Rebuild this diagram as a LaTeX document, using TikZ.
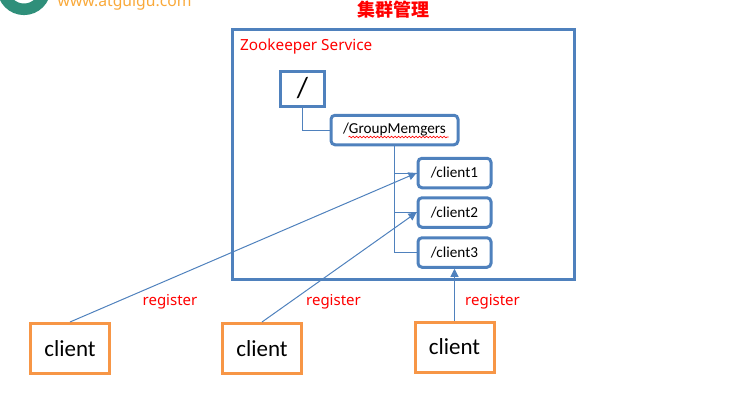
\documentclass[tikz,border=0pt]{standalone}
\usepackage{fontspec}
\setmainfont{Noto Sans}
\newfontfamily\cjk{Noto Sans CJK SC}
\newfontfamily\boxfont{Carlito}
\usetikzlibrary{arrows.meta,decorations.pathmorphing}
\definecolor{boxblue}{HTML}{4F81BD}
\definecolor{boxorange}{HTML}{F79646}
\definecolor{ringgreen}{HTML}{2F8F7A}
\definecolor{logoorange}{HTML}{F9A93A}
\tikzset{
  x=1pt,y=-1pt,
  service/.style={draw=boxblue,line width=3pt,minimum width=342pt,minimum height=250pt,inner sep=0pt},
  rootbox/.style={draw=boxblue,line width=3pt,minimum width=44pt,minimum height=35pt,inner sep=0pt,font=\boxfont\fontsize{29}{29}\selectfont},
  zbox/.style={draw=boxblue,line width=3pt,rounded corners=4pt,minimum height=29.5pt,inner sep=0pt,font=\boxfont\fontsize{15.2}{15.2}\selectfont},
  clientbox/.style={draw=boxorange,line width=3pt,minimum width=79pt,minimum height=50pt,inner sep=0pt,font=\boxfont\fontsize{23}{23}\selectfont},
  redlabel/.style={text=red,inner sep=0pt,font=\fontsize{15}{15}\selectfont},
  tree/.style={draw=boxblue,line width=1pt},
  regarrow/.style={draw=boxblue,line width=1pt,-{Triangle[length=8pt,width=8pt]}}
}
\begin{document}
\begin{tikzpicture}
\useasboundingbox (0,0) rectangle (749,412);
\begin{scope}
  \clip (0,0) rectangle (749,412);
  \draw[ringgreen,line width=11.5pt] (24,-11.7) circle[radius=21];
  \node[anchor=base west,inner sep=0pt,text=logoorange,font=\bfseries\fontsize{15.7}{15.7}\selectfont] (logo) at (57.5,7) {www.atguigu.com};
\end{scope}
\node[text=red,inner sep=0pt,font=\cjk\bfseries\fontsize{18}{18}\selectfont] (title) at (393.5,10) {集群管理};
\node[service] (svc) at (403.5,154.5) {};
\node[redlabel,anchor=west,font=\fontsize{15.3}{15.3}\selectfont] (svclabel) at (240,46.5) {Zookeeper Service};
\node[rootbox] (root) at (302.5,88.5) {/};
\node[zbox,minimum width=127pt] (group) at (394.5,130) {/GroupMemgers};
\node[zbox,minimum width=73pt] (c1) at (454.5,173) {/client1};
\node[zbox,minimum width=73pt] (c2) at (454.5,212.5) {/client2};
\node[zbox,minimum width=73pt] (c3) at (454.5,252.5) {/client3};
\draw[red,line width=0.7pt,decorate,decoration={snake,amplitude=0.8pt,segment length=3.5pt}] (group.center) ++(-46,7) coordinate (sqa) (sqa) -- ++(100,0);
\node[clientbox] (ca) at (70,348.5) {client};
\node[clientbox] (cb) at (262,348.5) {client};
\node[clientbox] (cc) at (454.5,347) {client};
\draw[tree] (root.south) |- (group.west);
\draw[tree] (group.south) |- (c1.west);
\draw[tree] (group.south) |- (c2.west);
\draw[tree] (group.south) |- (c3.west);
\draw[regarrow] (ca.north) -- (c1.west);
\draw[regarrow] (cb.north) -- (c2.west);
\draw[regarrow] (cc.north) -- (c3.south);
\node[redlabel] (ra) at (170,301.5) {register};
\node[redlabel] (rb) at (333.5,301.5) {register};
\node[redlabel] (rc) at (492.5,301.5) {register};
\end{tikzpicture}
\end{document}
